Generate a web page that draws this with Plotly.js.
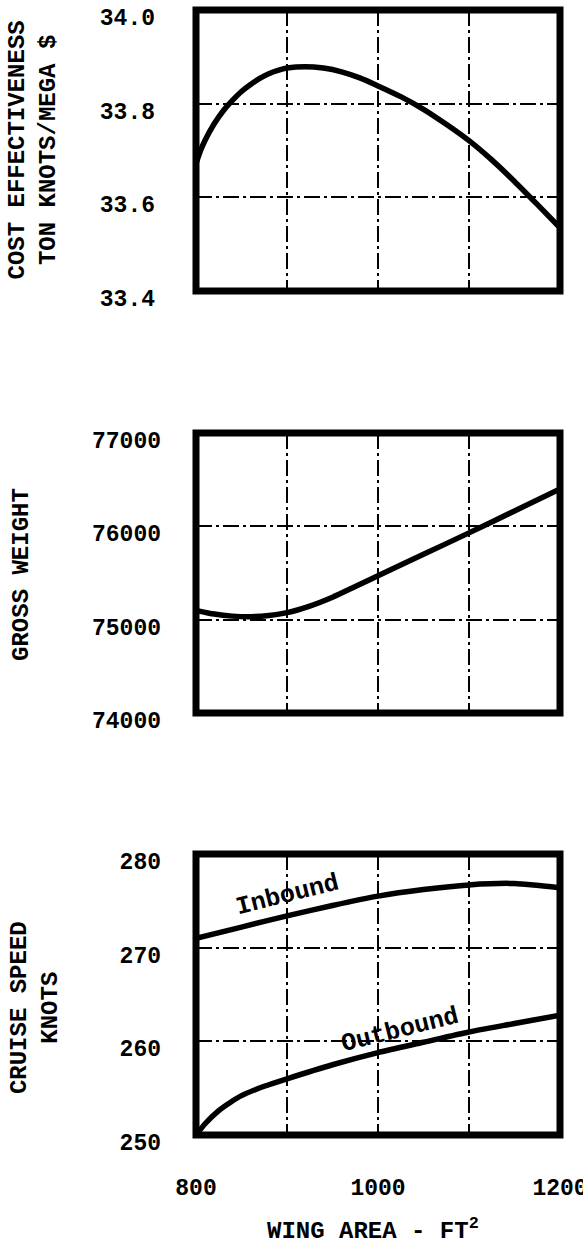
<!DOCTYPE html>
<html>
<head>
<meta charset="utf-8">
<script src="https://cdn.plot.ly/plotly-3.0.1.min.js"></script>
<style>html,body{margin:0;padding:0;background:#fff;}</style>
</head>
<body>
<div id="chart" style="width:583px;height:1247px;"></div>
<script>
// Wing area (ft^2) labelled ticks and extra grid positions
const xTickVals = [800, 1000, 1200];
const xTickText = ["800", "1000", "1200"];
const xMinorVals = [900, 1100];

// Y tick values and labels
const costTicks = [33.4, 33.6, 33.8, 34.0];
const costTickText = ["33.4", "33.6", "33.8", "34.0"];
const grossTicks = [74000, 75000, 76000, 77000];
const grossTickText = ["74000", "75000", "76000", "77000"];
const speedTicks = [250, 260, 270, 280];
const speedTickText = ["250", "260", "270", "280"];

// Cost effectiveness (ton knots / mega $)
const costX = [800, 805, 810, 820, 830, 840, 850, 860, 870, 880, 890, 900, 920, 940, 960, 980, 1000, 1025, 1050, 1075, 1100, 1125, 1150, 1175, 1200];
const costY = [33.672, 33.700, 33.722, 33.757, 33.785, 33.807, 33.826, 33.841, 33.854, 33.864, 33.871, 33.876, 33.879, 33.876, 33.868, 33.855, 33.838, 33.815, 33.788, 33.756, 33.721, 33.680, 33.634, 33.585, 33.535];

// Gross weight (lb)
const grossX = [800, 820, 840, 860, 880, 900, 925, 950, 975, 1000, 1050, 1100, 1150, 1200];
const grossY = [75100, 75060, 75038, 75032, 75045, 75075, 75145, 75240, 75355, 75470, 75700, 75930, 76165, 76400];

// Cruise speed (knots)
const inboundX = [800, 850, 900, 950, 1000, 1050, 1100, 1150, 1200];
const inboundY = [271.0, 272.2, 273.4, 274.5, 275.5, 276.2, 276.7, 276.85, 276.4];
const outboundX = [800, 810, 825, 838, 850, 875, 900, 950, 1000, 1050, 1100, 1150, 1200];
const outboundY = [250.0, 251.2, 252.6, 253.5, 254.2, 255.2, 256.0, 257.5, 258.8, 259.9, 261.0, 261.9, 262.8];

const MONO = "Liberation Mono, Courier New, monospace";
const lineStyle = {color: "#000", width: 5.5, shape: "spline", smoothing: 0.6};
const tickFont = {family: MONO, size: 23, color: "#000", weight: "bold"};
const DASH = "16px,4px,3px,4px";

const traces = [
  {x: costX, y: costY, xaxis: "x", yaxis: "y", mode: "lines", line: lineStyle, name: "Cost effectiveness"},
  {x: grossX, y: grossY, xaxis: "x2", yaxis: "y2", mode: "lines", line: lineStyle, name: "Gross weight"},
  {x: inboundX, y: inboundY, xaxis: "x3", yaxis: "y3", mode: "lines", line: lineStyle, name: "Inbound"},
  {x: outboundX, y: outboundY, xaxis: "x3", yaxis: "y3", mode: "lines", line: lineStyle, name: "Outbound"}
];

const GRID = {showgrid: true, gridcolor: "#000", gridwidth: 2, griddash: DASH,
              showline: false, zeroline: false, ticks: "", ticklabeloverflow: "allow"};

function xAxis(anchor, showLabels) {
  return Object.assign({
    anchor: anchor, domain: [0, 1], range: [800, 1200],
    tickmode: "array", tickvals: xTickVals, ticktext: xTickText,
    showticklabels: showLabels, ticklabelstandoff: 36, tickfont: tickFont,
    minor: {tickmode: "array", tickvals: xMinorVals, showgrid: true, gridcolor: "#000",
            gridwidth: 2, griddash: DASH, ticks: ""}
  }, GRID);
}
function yAxis(anchor, domain, range, vals, text, standoff) {
  return Object.assign({
    anchor: anchor, domain: domain, range: range,
    tickmode: "array", tickvals: vals, ticktext: text,
    ticklabelstandoff: standoff, ticklabelshift: 7, tickfont: tickFont
  }, GRID);
}

const titleFont = {family: MONO, size: 24, color: "#000", weight: "bold"};
const curveLabelFont = {family: MONO, size: 25, color: "#000", weight: "bold"};

function frame(xr, yr) {
  return {type: "rect", xref: xr + " domain", yref: yr + " domain", x0: 0, x1: 1, y0: 0, y1: 1,
          line: {color: "#000", width: 7}, layer: "above"};
}

const layout = {
  width: 583, height: 1247,
  margin: {l: 196, r: 23, t: 10, b: 112},
  paper_bgcolor: "#fff", plot_bgcolor: "#fff",
  showlegend: false,
  xaxis: xAxis("y", false),
  xaxis2: xAxis("y2", false),
  xaxis3: xAxis("y3", true),
  yaxis: yAxis("x", [0.7502, 1.0], [33.4, 34.0], costTicks, costTickText, 40),
  yaxis2: yAxis("x2", [0.3751, 0.624], [74000, 77000], grossTicks, grossTickText, 34),
  yaxis3: yAxis("x3", [0, 0.2498], [250, 280], speedTicks, speedTickText, 34),
  shapes: [frame("x", "y"), frame("x2", "y2"), frame("x3", "y3")],
  annotations: [
    {text: "COST EFFECTIVENESS<br>TON KNOTS/MEGA $", xref: "paper", yref: "paper",
     x: -0.449, y: 0.8756, xanchor: "center", yanchor: "middle", textangle: -90,
     showarrow: false, font: titleFont},
    {text: "GROSS WEIGHT", xref: "paper", yref: "paper",
     x: -0.478, y: 0.4978, xanchor: "center", yanchor: "middle", textangle: -90,
     showarrow: false, font: titleFont},
    {text: "CRUISE SPEED<br>KNOTS", xref: "paper", yref: "paper",
     x: -0.442, y: 0.1129, xanchor: "center", yanchor: "middle", textangle: -90,
     showarrow: false, font: titleFont},
    {text: "WING AREA - FT<sup>2</sup>", xref: "paper", yref: "paper",
     x: 0.486, y: -0.0836, xanchor: "center", yanchor: "middle",
     showarrow: false, font: titleFont},
    {text: "Inbound", xref: "x3", yref: "y3", x: 900, y: 275.6, textangle: -14,
     xanchor: "center", yanchor: "middle", showarrow: false, font: curveLabelFont},
    {text: "Outbound", xref: "x3", yref: "y3", x: 1024, y: 261.2, textangle: -14,
     xanchor: "center", yanchor: "middle", showarrow: false, font: curveLabelFont}
  ]
};

Plotly.newPlot("chart", traces, layout, {displayModeBar: false, staticPlot: true});
</script>
</body>
</html>
